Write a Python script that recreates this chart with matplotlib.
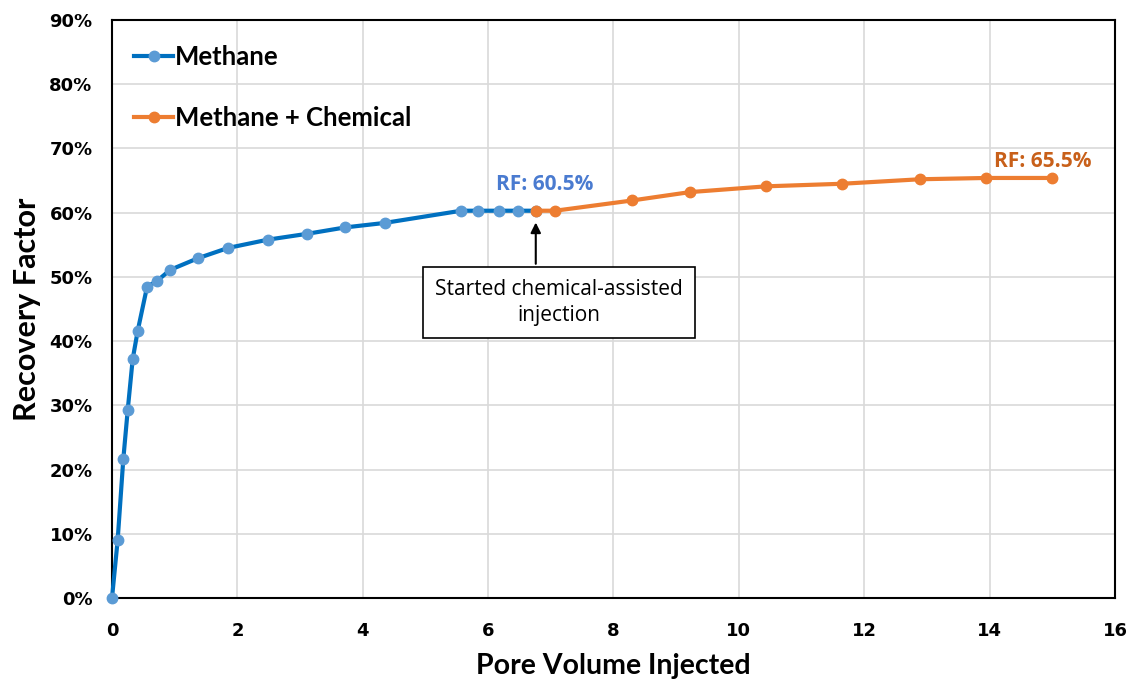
import matplotlib
matplotlib.use("Agg")
import matplotlib.pyplot as plt
from matplotlib.ticker import FuncFormatter

# Data
methane_pv = [0.0, 0.09, 0.18, 0.25, 0.33, 0.41, 0.56, 0.71, 0.93, 1.37, 1.85, 2.49,
              3.11, 3.72, 4.35, 5.57, 5.84, 6.18, 6.48, 6.76]
methane_rf = [0.0, 9.0, 21.6, 29.2, 37.2, 41.6, 48.5, 49.3, 51.1, 52.9, 54.5, 55.8,
              56.7, 57.7, 58.4, 60.3, 60.3, 60.3, 60.3, 60.3]
chem_pv = [6.76, 7.07, 8.30, 9.22, 10.44, 11.65, 12.89, 13.95, 15.0]
chem_rf = [60.3, 60.3, 61.9, 63.2, 64.1, 64.5, 65.2, 65.4, 65.4]
x_ticks = [0, 2, 4, 6, 8, 10, 12, 14, 16]
y_ticks = [0, 10, 20, 30, 40, 50, 60, 70, 80, 90]

fig = plt.figure(figsize=(11.36, 6.82), dpi=100)
ax = fig.add_axes([0.0986, 0.1232, 0.8829, 0.8475])

ax.plot(methane_pv, methane_rf, color="#0070C0", lw=3, marker="o", ms=7.5,
        mfc="#5B9BD5", mec="#5B9BD5", label="Methane", zorder=3, clip_on=False)
ax.plot(chem_pv, chem_rf, color="#ED7D31", lw=3, marker="o", ms=7.5,
        mfc="#ED7D31", mec="#ED7D31", label="Methane + Chemical", zorder=3)

ax.set_xlim(0, 16)
ax.set_ylim(0, 90)
ax.set_xticks(x_ticks)
ax.set_yticks(y_ticks)
ax.yaxis.set_major_formatter(FuncFormatter(lambda v, p: f"{int(v)}%"))
ax.grid(True, color="#D9D9D9", lw=1.2)
ax.set_axisbelow(True)
for s in ax.spines.values():
    s.set_color("black")
    s.set_linewidth(1.5)
    s.set_zorder(2.5)
ax.tick_params(axis="y", length=0, pad=14, labelsize=13)
ax.tick_params(axis="x", length=0, pad=17, labelsize=13)
for lab in ax.get_xticklabels() + ax.get_yticklabels():
    lab.set_fontweight("bold")
    lab.set_family("DejaVu Sans")

ax.set_xlabel("Pore Volume Injected", fontsize=20.5, fontweight="bold", family="Lato", labelpad=10)
ax.set_ylabel("Recovery Factor", fontsize=22, fontweight="bold", family="Lato", labelpad=6)

leg = ax.legend(loc="upper left", frameon=False, handlelength=1.5, handletextpad=0.08,
                labelspacing=1.45, borderaxespad=0.0, bbox_to_anchor=(0.012, 0.975),
                prop={"family": "Lato", "weight": "bold", "size": 18.5})

ax.text(6.9, 62.8, "RF: 60.5%", color="#4A7BD0", fontsize=15, fontweight="bold",
        family="Open Sans", ha="center", va="bottom")
ax.text(14.84, 66.3, "RF: 65.5%", color="#C8601A", fontsize=15, fontweight="bold",
        family="Open Sans", ha="center", va="bottom")

ax.text(7.13, 46.0, "Started chemical-assisted\ninjection", fontsize=15, family="Open Sans",
        ha="center", va="center", linespacing=1.3,
        bbox=dict(boxstyle="square,pad=0.6", fc="white", ec="black", lw=1.2), zorder=4)
ax.annotate("", xy=(6.76, 58.9), xytext=(6.76, 51.6),
            arrowprops=dict(arrowstyle="-|>", color="black", lw=1.5, mutation_scale=15), zorder=4)

fig.savefig("out.png", dpi=100)
